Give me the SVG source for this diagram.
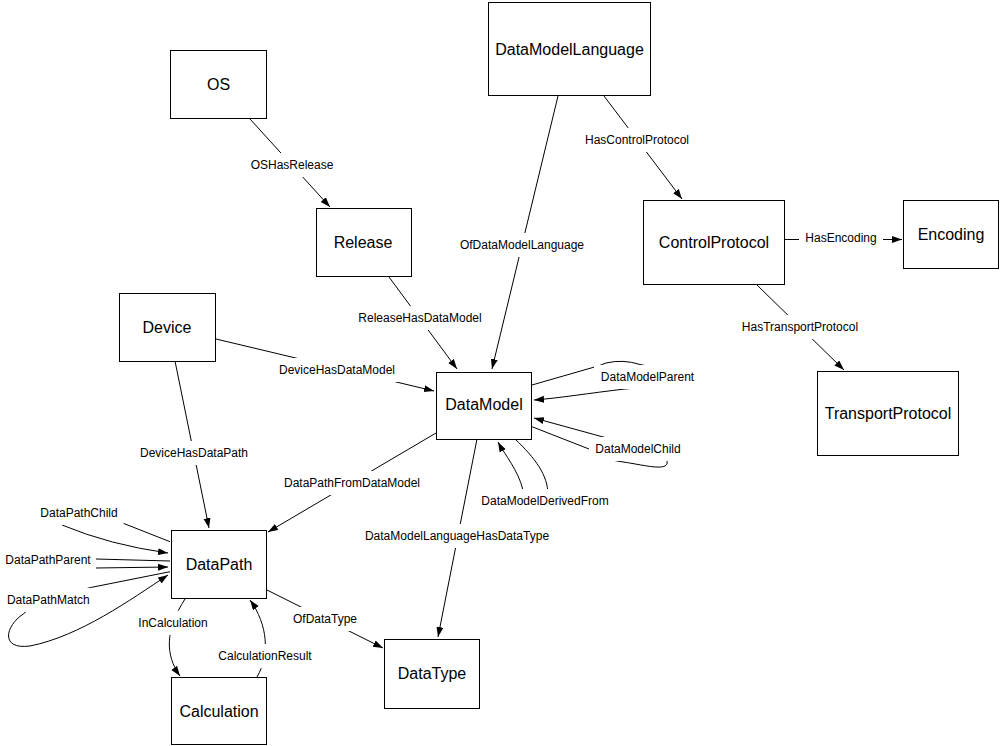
<svg xmlns="http://www.w3.org/2000/svg" width="1000" height="746" viewBox="0 0 1000 746">
<style>
.node rect{fill:#fff;stroke:#000;stroke-width:1}
.node text{font-family:"Liberation Sans",Arial,sans-serif;font-size:16px;fill:#000;text-anchor:middle}
.edge{fill:none;stroke:#000;stroke-width:1;marker-end:url(#arrow)}
.lbl rect{fill:#fff;stroke:none}
.lbl text{font-family:"Liberation Sans",Arial,sans-serif;font-size:12px;fill:#000;text-anchor:middle}
</style>
<defs>
<marker id="arrow" markerUnits="userSpaceOnUse" markerWidth="11" markerHeight="8" refX="10" refY="3.5" orient="auto">
<path d="M0,0 L10,3.5 L0,7 z" fill="#000"/>
</marker>
</defs>
<rect width="1000" height="746" fill="#fff"/>
<g id="connectors">
<path class="edge" d="M250,119 L330,207"/>
<path class="edge" d="M389,277 L457,369"/>
<path class="edge" d="M558,96 L492,369"/>
<path class="edge" d="M604,96 L682,199"/>
<path class="edge" d="M785,239.5 L902,239.5"/>
<path class="edge" d="M757,285 L844,370"/>
<path class="edge" d="M216,339 L434,391"/>
<path class="edge" d="M175,361 L209,528"/>
<path class="edge" d="M436,433 L268,532"/>
<path class="edge" d="M477,439 L438,637"/>
<path class="edge" d="M267,590 L383,648"/>
<path class="edge" d="M185,599 C165,630 165,655 180,676"/>
<path class="edge" d="M257,677 C270,655 268,625 250,600"/>
<path class="edge" d="M170,541.7 L120,522 Q50,500 62,525 Q110,545 168,553"/>
<path class="edge" d="M170,561 L96,559 C40,557 40,569 96,568 L168,567"/>
<path class="edge" d="M170,571.7 L91.7,587.3 L40,600 L23.3,614 C5,626 0,650 30,646 C80,636 130,600 168,575"/>
<path class="edge" d="M532,385 L598,366 Q601,365 606,363 Q623,359 640,364.5 C680,372 680,385 625,389 C590,393 560,398 534,400"/>
<path class="edge" d="M532,426.7 L589,449 C600,455 608,460 620,461.5 C640,464 670,473 667,461 C662,450 640,445 605,437.5 L534,418"/>
<path class="edge" d="M515,439 C535,458 548,475 548,495 C548,505 525,500 523,490 C518,470 505,455 498,442"/>
<g id="edge-labels">
<g class="lbl"><rect x="245.6" y="153" width="94.7" height="24"/><text x="292" y="169">OSHasRelease</text></g>
<g class="lbl"><rect x="352.3" y="306" width="135.4" height="24"/><text x="420" y="322">ReleaseHasDataModel</text></g>
<g class="lbl"><rect x="454" y="233" width="136" height="24"/><text x="522" y="249">OfDataModelLanguage</text></g>
<g class="lbl"><rect x="579" y="128" width="116" height="24"/><text x="637" y="144">HasControlProtocol</text></g>
<g class="lbl"><rect x="799" y="226" width="84" height="24"/><text x="841" y="242">HasEncoding</text></g>
<g class="lbl"><rect x="735.6" y="315" width="128.7" height="24"/><text x="800" y="331">HasTransportProtocol</text></g>
<g class="lbl"><rect x="273" y="358" width="128" height="24"/><text x="337" y="374">DeviceHasDataModel</text></g>
<g class="lbl"><rect x="134" y="441" width="120" height="24"/><text x="194" y="457">DeviceHasDataPath</text></g>
<g class="lbl"><rect x="278" y="471" width="148" height="24"/><text x="352" y="487">DataPathFromDataModel</text></g>
<g class="lbl"><rect x="358" y="524" width="198" height="24"/><text x="457" y="540">DataModelLanguageHasDataType</text></g>
<g class="lbl"><rect x="286.6" y="607" width="76.7" height="24"/><text x="325" y="623">OfDataType</text></g>
<g class="lbl"><rect x="132.3" y="611" width="81.4" height="24"/><text x="173" y="627">InCalculation</text></g>
<g class="lbl"><rect x="212.3" y="644" width="105.4" height="24"/><text x="265" y="660">CalculationResult</text></g>
<g class="lbl"><rect x="34.3" y="501" width="89.4" height="24"/><text x="79" y="517">DataPathChild</text></g>
<g class="lbl"><rect x="-1" y="548" width="97" height="24"/><text x="48" y="564">DataPathParent</text></g>
<g class="lbl"><rect x="1" y="588" width="94.7" height="24"/><text x="48.3" y="604">DataPathMatch</text></g>
<g class="lbl"><rect x="594" y="365" width="107" height="24"/><text x="647.5" y="381">DataModelParent</text></g>
<g class="lbl"><rect x="589" y="437" width="98" height="24"/><text x="638" y="453">DataModelChild</text></g>
<g class="lbl"><rect x="475" y="489" width="139.4" height="24"/><text x="545" y="505">DataModelDerivedFrom</text></g>
</g>
</g>
<g id="node-OS" class="node"><rect x="170.5" y="50.5" width="96" height="68"/><text x="218.5" y="90">OS</text></g>
<g id="node-Release" class="node"><rect x="316.5" y="208.5" width="95" height="68"/><text x="363" y="248">Release</text></g>
<g id="node-DataModelLanguage" class="node"><rect x="488.5" y="2.5" width="162" height="93"/><text x="569.5" y="54.5">DataModelLanguage</text></g>
<g id="node-ControlProtocol" class="node"><rect x="643.5" y="200.5" width="141" height="84"/><text x="714" y="248">ControlProtocol</text></g>
<g id="node-Encoding" class="node"><rect x="903.5" y="200.5" width="95" height="68"/><text x="951" y="240">Encoding</text></g>
<g id="node-TransportProtocol" class="node"><rect x="817.5" y="371.5" width="141" height="84"/><text x="888" y="419">TransportProtocol</text></g>
<g id="node-Device" class="node"><rect x="119.5" y="293.5" width="96" height="68"/><text x="167" y="333">Device</text></g>
<g id="node-DataModel" class="node"><rect x="436.5" y="372.5" width="95" height="67"/><text x="484" y="409.5">DataModel</text></g>
<g id="node-DataPath" class="node"><rect x="171.5" y="530.5" width="95" height="68"/><text x="219" y="570">DataPath</text></g>
<g id="node-Calculation" class="node"><rect x="171.5" y="677.5" width="95" height="67"/><text x="219" y="717">Calculation</text></g>
<g id="node-DataType" class="node"><rect x="384.5" y="639.5" width="95" height="69"/><text x="432" y="679">DataType</text></g>
</svg>
